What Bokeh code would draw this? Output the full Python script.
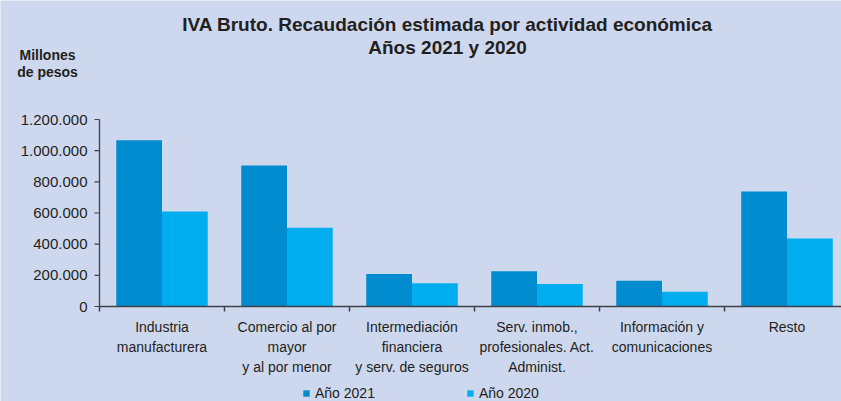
import numpy as np
from bokeh.plotting import figure
from bokeh.models import (ColumnDataSource, Range1d, Label, Legend, LegendItem)
from bokeh.core.properties import value
from bokeh.embed import file_html
from bokeh.resources import INLINE

# ---------------- data ----------------
categories = [
    "Industria\nmanufacturera",
    "Comercio al por\nmayor\ny al por menor",
    "Intermediación\nfinanciera\ny serv. de seguros",
    "Serv. inmob.,\nprofesionales. Act.\nAdminist.",
    "Información y\ncomunicaciones",
    "Resto",
]
anio_2021 = [1067000, 905000, 208000, 227000, 165000, 738000]
anio_2020 = [610000, 505000, 150000, 144000, 95000, 436000]
series_names = ["Año 2021", "Año 2020"]
y_ticks = [0, 200000, 400000, 600000, 800000, 1000000, 1200000]
y_tick_labels = ["0", "200.000", "400.000", "600.000", "800.000", "1.000.000", "1.200.000"]
title_lines = ["IVA Bruto. Recaudación estimada por actividad económica", "Años 2021 y 2020"]
unit_lines = ["Millones", "de pesos"]

# ---------------- style / layout ----------------
BG = "#CDD7EE"
C2021 = "#008CCE"
C2020 = "#00AEEF"
TXT = "#231F20"
AX = "#404048"
FONT = "Liberation Sans"

W, H = 841, 401
X0, CAT = 99, 125.0            # pixel of category axis start, pixels per category
Y0, KPX = 306, 187 / 1200000   # pixel of value 0, pixels per unit


def dx(px):
    return (px - X0) / CAT


def dy(py):
    return (Y0 - py) / KPX


p = figure(width=W, height=H, output_backend="svg", toolbar_location=None,
           x_range=Range1d(dx(0), dx(W)), y_range=Range1d(dy(H), dy(0)),
           x_axis_location=None, y_axis_location=None, min_border=0)
p.background_fill_color = BG
p.border_fill_color = BG
p.outline_line_color = None
p.xgrid.visible = False
p.ygrid.visible = False

n = len(categories)
centers = np.arange(n) + 0.5
bounds = np.arange(n + 1)
bw = 0.366
src = ColumnDataSource(dict(
    x21=centers - bw / 2, x20=centers + bw / 2,
    y21=anio_2021, y20=anio_2020,
))
r21 = p.vbar(x="x21", top="y21", width=bw, bottom=0, source=src, fill_color=C2021, line_color=None)
r20 = p.vbar(x="x20", top="y20", width=bw, bottom=0, source=src, fill_color=C2020, line_color=None)

# ---- value axis ----
p.segment(x0=[0], y0=[0], x1=[0], y1=[y_ticks[-1]], line_color=AX, line_width=1.3)
p.segment(x0=[dx(94)] * len(y_ticks), y0=y_ticks, x1=[0] * len(y_ticks), y1=y_ticks,
          line_color=AX, line_width=1.2)
p.text(x=[dx(87)] * len(y_ticks), y=y_ticks, text=y_tick_labels,
       text_align="right", text_baseline="middle", text_font=value(FONT),
       text_font_size="15px", text_color=TXT)

# ---- category axis ----
p.segment(x0=[0], y0=[0], x1=[n], y1=[0], line_color=AX, line_width=1.5)
p.segment(x0=bounds, y0=[0] * len(bounds), x1=bounds, y1=[dy(311)] * len(bounds),
          line_color=AX, line_width=1.5)
p.text(x=centers, y=[dy(318)] * n, text=categories,
       text_align="center", text_baseline="top", text_font=value(FONT),
       text_font_size="14px", text_color=TXT, text_line_height=1.28)

# ---- titles ----
for txt, cy in zip(title_lines, [24, 47]):
    p.add_layout(Label(x=dx(447), y=dy(cy), text=txt, text_align="center", text_baseline="middle",
                       text_font=FONT, text_font_size="19px", text_font_style="bold",
                       text_color=TXT))
for txt, cy in zip(unit_lines, [54, 71]):
    p.add_layout(Label(x=dx(47), y=dy(cy), text=txt, text_align="center", text_baseline="middle",
                       text_font=FONT, text_font_size="14px", text_font_style="bold",
                       text_color=TXT))

# ---- legend ----
legend = Legend(items=[LegendItem(label=series_names[0], renderers=[r21]),
                       LegendItem(label=series_names[1], renderers=[r20])],
                location=(302, 0), orientation="horizontal",
                glyph_width=8, glyph_height=8, label_standoff=5, spacing=91,
                padding=0, margin=0, border_line_color=None, background_fill_alpha=0,
                label_text_font=FONT, label_text_font_size="14px", label_text_color=TXT,
                label_height=14)
p.add_layout(legend, "center")

open("out.html", "w").write(file_html(p, INLINE))
